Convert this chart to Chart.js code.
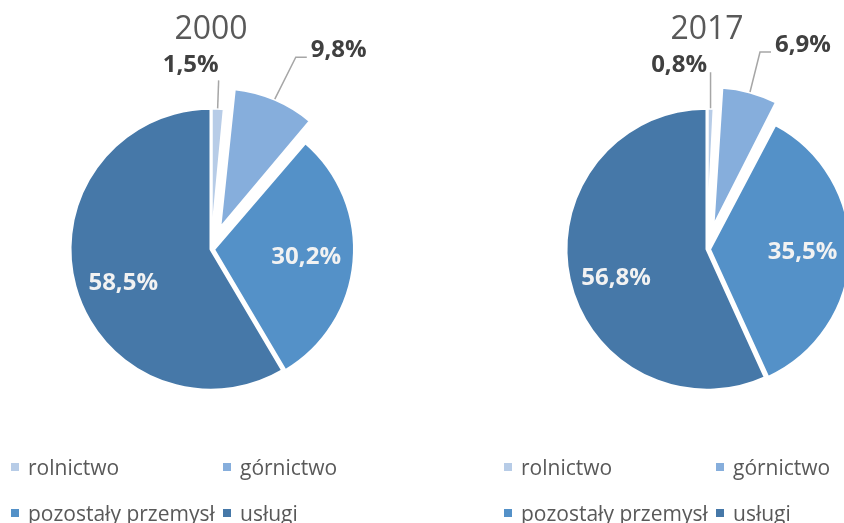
<!DOCTYPE html>
<html>
<head>
<meta charset="utf-8">
<script src="https://cdn.jsdelivr.net/npm/chart.js@4.4.1/dist/chart.umd.min.js"></script>
<style>
  html, body { margin: 0; padding: 0; background: #fff; }
  #page { position: relative; width: 844px; height: 523px; overflow: hidden; font-family: 'Open Sans', sans-serif; }
  #page canvas { position: absolute; top: 0; }
  .legend { position: absolute; top: 0; width: 420px; height: 523px; }
  .legend-box { position: absolute; width: 8px; height: 8px; }
  .legend-text { position: absolute; white-space: nowrap; font-size: 21px; line-height: 24px; color: #595959; }
</style>
</head>
<body>
<div id="page">
  <canvas id="chart2000" width="422" height="443" style="left:0"></canvas>
  <canvas id="chart2017" width="422" height="443" style="left:496px"></canvas>
  <div id="legend2000" class="legend" style="left:0"></div>
  <div id="legend2017" class="legend" style="left:493px"></div>
</div>
<script>
// Data
const categories = ['rolnictwo', 'górnictwo', 'pozostały przemysł', 'usługi'];
const years = ['2000', '2017'];
const shares2000 = [1.5, 9.8, 30.2, 58.5];
const shares2017 = [0.8, 6.9, 35.5, 56.8];

const sliceColors = ['#b7cce7', '#86aedc', '#5491c8', '#4678a8'];

Chart.defaults.font.family = "'Open Sans', sans-serif";

function formatShare(v) {
  return v.toFixed(1).replace('.', ',') + '%';
}

// Where each label goes; outside labels are relative to the slice edge
const labelPlaces2000 = [
  { line: [[1, -28]], tx: 1, ty: -36, align: 'right' },
  { line: [[21, -42], [32, -42]], tx: 36, ty: -42, align: 'left' },
  { inside: true, dx: 0, dy: 0 },
  { inside: true, dx: 2, dy: 9 }
];
const labelPlaces2017 = [
  { line: [[0, -36]], tx: -3.5, ty: -36, align: 'right' },
  { line: [[10, -40], [21, -40]], tx: 25, ty: -40, align: 'left' },
  { inside: true, dx: 0, dy: 0 },
  { inside: true, dx: 0, dy: 9 }
];

const sliceLabels = {
  id: 'sliceLabels',
  beforeDatasetsDraw(chart) {
    // Chart.js enlarges an exploded slice; keep it at the pie radius
    const meta = chart.getDatasetMeta(0);
    const radius = meta.controller.outerRadius;
    meta.data.forEach(arc => {
      const shift = (arc.options.offset || 0) / 4;
      const fix = 1 - Math.sin(Math.min(Math.PI, arc.circumference));
      arc.outerRadius = radius - shift * fix;
    });
  },
  afterDatasetsDraw(chart, args, opts) {
    const ctx = chart.ctx;
    const meta = chart.getDatasetMeta(0);
    const radius = meta.controller.outerRadius;
    const values = chart.data.datasets[0].data;
    meta.data.forEach((arc, i) => {
      const place = opts.places[i];
      const mid = (arc.startAngle + arc.endAngle) / 2;
      const shift = (arc.options.offset || 0) / 4;
      const cx = arc.x + Math.cos(mid) * shift;
      const cy = arc.y + Math.sin(mid) * shift;
      const text = formatShare(values[i]);
      ctx.save();
      ctx.font = "bold 24px 'Open Sans', sans-serif";
      if (place.inside) {
        const r = radius * 0.66;
        ctx.fillStyle = '#f2f2f2';
        ctx.textAlign = 'center';
        ctx.textBaseline = 'middle';
        ctx.fillText(text, cx + Math.cos(mid) * r + place.dx, cy + Math.sin(mid) * r + place.dy);
      } else {
        const px = cx + Math.cos(mid) * radius;
        const py = cy + Math.sin(mid) * radius;
        ctx.strokeStyle = '#a6a6a6';
        ctx.lineWidth = 1.5;
        ctx.beginPath();
        ctx.moveTo(px, py);
        place.line.forEach(p => ctx.lineTo(px + p[0], py + p[1]));
        ctx.stroke();
        ctx.fillStyle = '#404040';
        ctx.textAlign = place.align;
        ctx.textBaseline = 'alphabetic';
        ctx.fillText(text, px + place.tx, py + place.ty);
      }
      ctx.restore();
    });
  }
};

function makePie(canvasId, year, shares, places) {
  const ctx = document.getElementById(canvasId).getContext('2d');
  return new Chart(ctx, {
    type: 'pie',
    data: {
      labels: categories,
      datasets: [{
        data: shares,
        backgroundColor: sliceColors,
        borderColor: '#ffffff',
        borderWidth: 3,
        offset: [0, 88, 10, 0]
      }]
    },
    options: {
      responsive: false,
      animation: false,
      events: [],
      radius: 141,
      plugins: {
        legend: { display: false },
        tooltip: { enabled: false },
        title: {
          display: true,
          text: year,
          color: '#595959',
          font: { size: 32, weight: 'normal' },
          padding: { top: 11, bottom: 6 }
        },
        sliceLabels: { places: places }
      }
    },
    plugins: [sliceLabels]
  });
}

// HTML legend in two columns, built from the chart's own legend items
function buildLegend(chart, elId) {
  const box = document.getElementById(elId);
  const items = chart.options.plugins.legend.labels.generateLabels(chart);
  items.forEach((item, i) => {
    const col = i % 2;
    const row = Math.floor(i / 2);
    const left = col ? 223 : 11;
    const sq = document.createElement('div');
    sq.className = 'legend-box';
    sq.style.background = item.fillStyle;
    sq.style.left = left + 'px';
    sq.style.top = (463 + row * 46) + 'px';
    const txt = document.createElement('div');
    txt.className = 'legend-text';
    txt.textContent = item.text;
    txt.style.left = (left + 17) + 'px';
    txt.style.top = (455 + row * 46) + 'px';
    box.appendChild(sq);
    box.appendChild(txt);
  });
}

const chart2000 = makePie('chart2000', years[0], shares2000, labelPlaces2000);
const chart2017 = makePie('chart2017', years[1], shares2017, labelPlaces2017);
buildLegend(chart2000, 'legend2000');
buildLegend(chart2017, 'legend2017');
</script>
</body>
</html>
